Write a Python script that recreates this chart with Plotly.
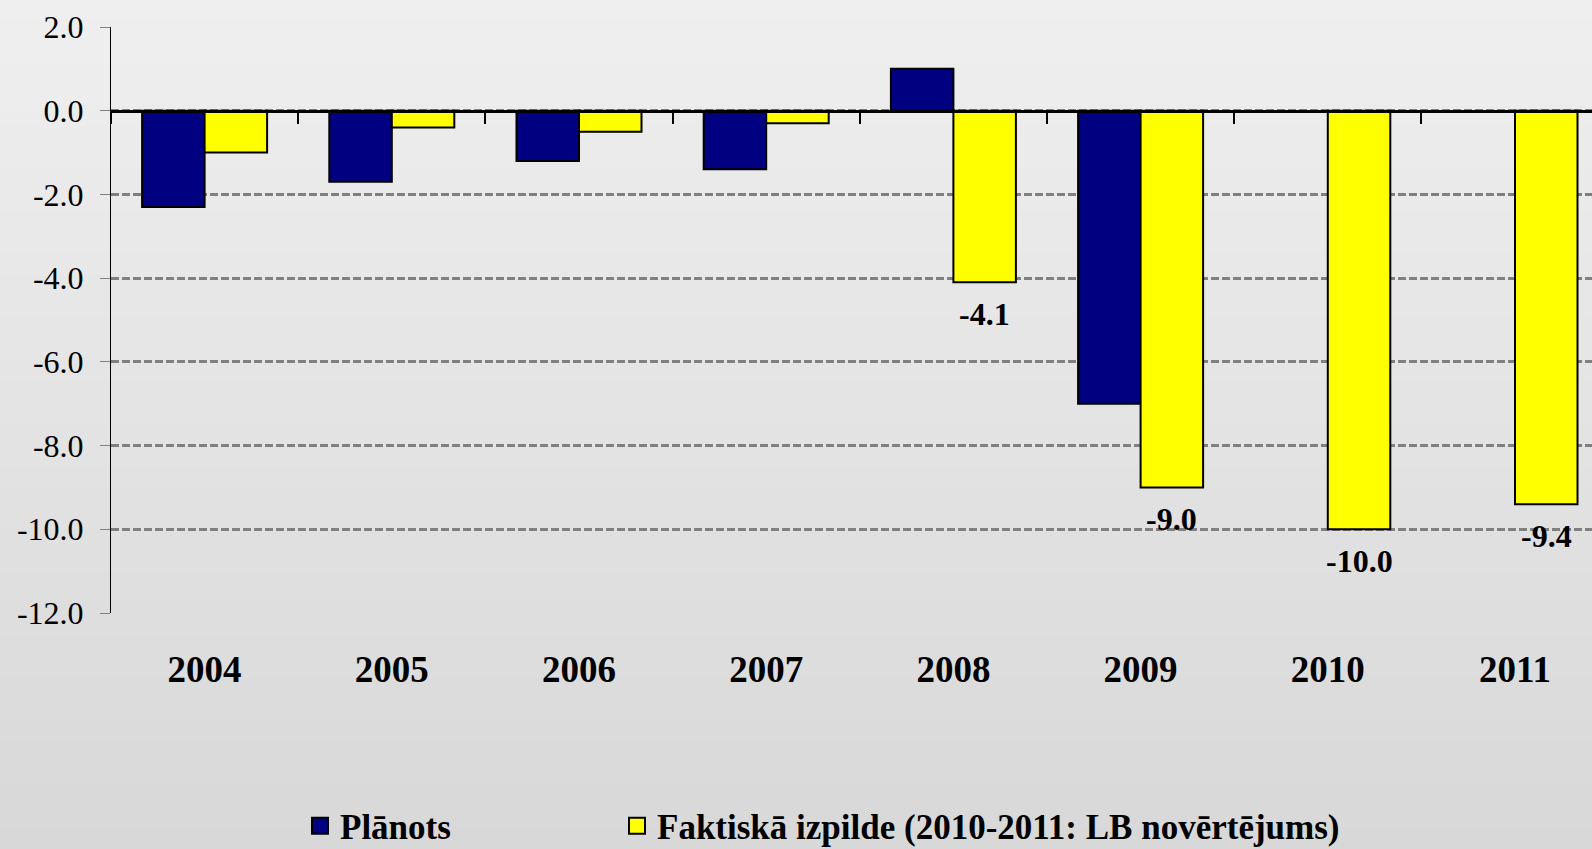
import plotly.graph_objects as go

years = ["2004", "2005", "2006", "2007", "2008", "2009", "2010", "2011"]
planots = [-2.3, -1.7, -1.2, -1.4, 1.0, -7.0, None, None]
faktiska = [-1.0, -0.4, -0.5, -0.3, -4.1, -9.0, -10.0, -9.4]
faktiska_labels = ["", "", "", "", "-4.1", "-9.0", "-10.0", "-9.4"]
series_names = ["Plānots", "Faktiskā izpilde (2010-2011: LB novērtējums)"]
y_tickvals = [2, 0, -2, -4, -6, -8, -10, -12]
y_ticktext = ["2.0", "0.0", "-2.0", "-4.0", "-6.0", "-8.0", "-10.0", "-12.0"]

colors = ["#000080", "#FFFF00"]

W, H = 1592, 849
ML, MR, MT, MB = 111, 0, 27, 236
plot_w = W - ML - MR
plot_h = H - MT - MB
ymin, ymax = -12, 2
zero_pos = (0 - ymin) / (ymax - ymin)
cat_px = 187.2
bar_px = 62.5

font_family = "Liberation Serif, Times New Roman, serif"

fig = go.Figure()
fig.add_trace(go.Bar(
    x=years, y=planots, name=series_names[0], showlegend=False,
    marker=dict(color=colors[0], line=dict(color="black", width=2)),
))
fig.add_trace(go.Bar(
    x=years, y=faktiska, name=series_names[1], showlegend=False,
    marker=dict(color=colors[1], line=dict(color="black", width=2)),
))
# helper trace to carry categories on the zero-line axis
fig.add_trace(go.Bar(
    x=years, y=[None] * len(years), xaxis="x2", showlegend=False,
    hoverinfo="skip", marker=dict(color="rgba(0,0,0,0)"),
))
# legend entries
for i, (nm, col) in enumerate(zip(series_names, colors)):
    fig.add_trace(go.Scatter(
        x=[None], y=[None], mode="markers", name=nm,
        legend="legend" if i == 0 else "legend2",
        marker=dict(symbol="square", size=16, color=col,
                    line=dict(color="black", width=2)),
    ))

# data labels below selected bars (category index positions)
annotations = []
for idx, (v, lab) in enumerate(zip(faktiska, faktiska_labels)):
    if lab:
        annotations.append(dict(
            x=idx, y=v, xref="x", yref="y", text=lab, showarrow=False,
            xanchor="center", yanchor="top", xshift=bar_px / 2, yshift=-12,
            font=dict(family=font_family, size=32, color="black", weight="bold"),
        ))

# background gradient bands
n = 40
c0, c1 = 0xEF, 0xD8
shapes = []
for i in range(n):
    c = round(c0 + (c1 - c0) * i / (n - 1))
    shapes.append(dict(
        type="rect", xref="paper", yref="paper", layer="below",
        x0=-ML / plot_w - 0.01, x1=1.01,
        y1=1 + MT / plot_h - i * (H / plot_h) / n + 0.002,
        y0=1 + MT / plot_h - (i + 1) * (H / plot_h) / n,
        fillcolor=f"rgb({c},{c},{c})", line=dict(width=0),
    ))

xr = [-0.5, -0.5 + plot_w / cat_px]

legend_common = dict(
    orientation="h", yanchor="middle", y=-(826 - (H - MB)) / plot_h,
    xanchor="left",
    font=dict(family=font_family, size=35, color="black", weight="bold"),
    bgcolor="rgba(0,0,0,0)",
)

fig.update_layout(
    width=W, height=H,
    margin=dict(l=ML, r=MR, t=MT, b=MB, autoexpand=False),
    paper_bgcolor="#e4e4e4", plot_bgcolor="rgba(0,0,0,0)",
    barmode="group", bargap=1 - 2 * bar_px / cat_px, bargroupgap=0,
    shapes=shapes, annotations=annotations,
    font=dict(family=font_family, color="black"),
    showlegend=True,
    legend=dict(x=(300 - ML) / plot_w, **legend_common),
    legend2=dict(x=(617 - ML) / plot_w, **legend_common),
    xaxis=dict(
        type="category", categoryarray=years, categoryorder="array",
        range=xr, showline=False, showgrid=False, zeroline=False,
        ticks="", ticklabelstandoff=31,
        tickfont=dict(family=font_family, size=37, color="black", weight="bold"),
    ),
    xaxis2=dict(
        type="category", categoryarray=years, categoryorder="array",
        range=xr, overlaying="x", anchor="free", position=zero_pos,
        side="bottom", showticklabels=False, showgrid=False, zeroline=False,
        showline=True, linecolor="black", linewidth=3,
        ticks="outside", tickson="boundaries", ticklen=11, tickwidth=2,
        tickcolor="black",
    ),
    yaxis=dict(
        range=[ymin, ymax], tickvals=y_tickvals, ticktext=y_ticktext,
        showgrid=True, gridcolor="#808080", gridwidth=2.5, griddash="8px,3px",
        zeroline=False, showline=True, linecolor="black", linewidth=1,
        ticks="outside", ticklen=10, tickcolor="#808080", tickwidth=1,
        ticklabelstandoff=10,
        tickfont=dict(family=font_family, size=32, color="black"),
    ),
)

fig.write_html(
    "out.html",
    config={"displayModeBar": False},
    post_script="document.body.style.margin='0';document.body.style.overflow='hidden';document.body.style.background='#d8d8d8';",
)
